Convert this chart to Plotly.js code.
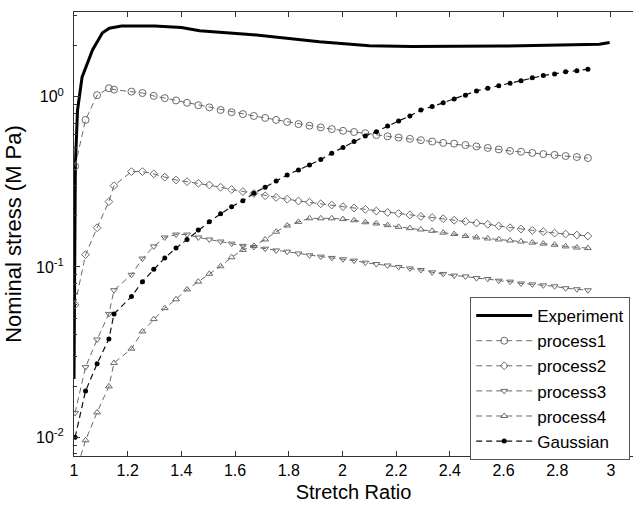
<!DOCTYPE html>
<html>
<head>
<meta charset="utf-8">
<script src="https://cdn.plot.ly/plotly-3.0.1.min.js"></script>
<style>html,body{margin:0;padding:0;background:#fff;overflow:hidden;}</style>
</head>
<body>
<div id="chart" style="width:633px;height:506px;"></div>
<script>
// Experiment curve
const expStretch = [1.0, 1.002, 1.005, 1.013, 1.03, 1.069, 1.106, 1.132, 1.177, 1.3, 1.4, 1.468, 1.654, 1.914, 2.1, 2.26, 2.586, 2.957, 2.995];
const expStress  = [0.022, 0.1, 0.39, 0.83, 1.3, 1.88, 2.37, 2.52, 2.6, 2.6, 2.55, 2.44, 2.32, 2.10, 1.99, 1.97, 1.98, 2.03, 2.08];

// Model stretch grid (shared by the model series)
const modelStretch = [1.004, 1.043, 1.086, 1.130, 1.149, 1.214, 1.255, 1.297, 1.338, 1.380, 1.421, 1.463, 1.504, 1.546, 1.587, 1.629, 1.670, 1.712, 1.753, 1.794, 1.836, 1.877, 1.919, 1.960, 2.002, 2.043, 2.085, 2.126, 2.168, 2.209, 2.251, 2.292, 2.334, 2.375, 2.416, 2.458, 2.499, 2.541, 2.582, 2.624, 2.665, 2.707, 2.748, 2.790, 2.831, 2.873, 2.914];

const process1 = [0.39, 0.73, 1.02, 1.12, 1.10, 1.07, 1.05, 1.01, 0.98, 0.95, 0.92, 0.89, 0.865, 0.835, 0.81, 0.79, 0.77, 0.75, 0.73, 0.71, 0.69, 0.675, 0.66, 0.645, 0.63, 0.62, 0.61, 0.595, 0.585, 0.575, 0.565, 0.555, 0.545, 0.535, 0.53, 0.52, 0.51, 0.50, 0.49, 0.48, 0.475, 0.467, 0.46, 0.455, 0.448, 0.442, 0.436];
const process2 = [0.06, 0.118, 0.170, 0.242, 0.30, 0.363, 0.363, 0.352, 0.337, 0.324, 0.317, 0.31, 0.303, 0.294, 0.285, 0.277, 0.27, 0.262, 0.256, 0.25, 0.244, 0.24, 0.235, 0.231, 0.226, 0.222, 0.218, 0.213, 0.209, 0.206, 0.202, 0.198, 0.195, 0.192, 0.188, 0.185, 0.181, 0.178, 0.174, 0.170, 0.167, 0.164, 0.161, 0.158, 0.156, 0.154, 0.152];
const process3 = [0.0139, 0.0258, 0.0375, 0.053, 0.073, 0.090, 0.112, 0.132, 0.149, 0.155, 0.155, 0.149, 0.145, 0.141, 0.137, 0.133, 0.131, 0.128, 0.125, 0.123, 0.12, 0.117, 0.115, 0.113, 0.111, 0.109, 0.106, 0.104, 0.102, 0.100, 0.098, 0.096, 0.093, 0.091, 0.089, 0.088, 0.086, 0.085, 0.083, 0.082, 0.080, 0.079, 0.078, 0.077, 0.075, 0.074, 0.073];
const process4 = [0.006, 0.0096, 0.014, 0.0199, 0.0273, 0.0331, 0.0418, 0.0494, 0.0573, 0.0646, 0.0738, 0.082, 0.0911, 0.101, 0.114, 0.126, 0.133, 0.145, 0.161, 0.175, 0.184, 0.193, 0.193, 0.193, 0.191, 0.188, 0.183, 0.180, 0.176, 0.172, 0.169, 0.166, 0.163, 0.159, 0.156, 0.152, 0.149, 0.147, 0.145, 0.143, 0.141, 0.139, 0.137, 0.135, 0.132, 0.130, 0.129];
const gaussian = [0.0100, 0.0187, 0.027, 0.0378, 0.053, 0.067, 0.082, 0.097, 0.113, 0.129, 0.145, 0.165, 0.184, 0.205, 0.226, 0.245, 0.271, 0.294, 0.32, 0.347, 0.371, 0.397, 0.427, 0.465, 0.502, 0.545, 0.588, 0.623, 0.673, 0.720, 0.77, 0.835, 0.874, 0.922, 0.969, 1.02, 1.08, 1.12, 1.16, 1.20, 1.24, 1.29, 1.33, 1.36, 1.40, 1.42, 1.45];

const seriesNames = ['Experiment', 'process1', 'process2', 'process3', 'process4', 'Gaussian'];
const yTickVals = [0.01, 0.1, 1];
const yTickText = ['10<sup>-2</sup>', '10<sup>-1</sup>', '10<sup>0</sup>'];
const yMinorVals = [0.008, 0.009, 0.02, 0.03, 0.04, 0.05, 0.06, 0.07, 0.08, 0.09, 0.2, 0.3, 0.4, 0.5, 0.6, 0.7, 0.8, 0.9, 2, 3];

const gray = '#6a6a6a';
const dash = '6px,4px';
function proc(name, ys, sym, size) {
  return {
    x: modelStretch, y: ys, name: name, type: 'scatter', mode: 'lines+markers',
    line: {color: gray, width: 1, dash: dash},
    marker: {symbol: sym, size: size, color: gray, line: {color: gray, width: 1}}
  };
}
const traces = [
  {x: expStretch, y: expStress, name: seriesNames[0], type: 'scatter', mode: 'lines',
   line: {color: '#000', width: 3}},
  proc(seriesNames[1], process1, 'circle-open', 7),
  proc(seriesNames[2], process2, 'diamond-open', 6),
  proc(seriesNames[3], process3, 'triangle-down-open', 6),
  proc(seriesNames[4], process4, 'triangle-up-open', 6),
  {x: modelStretch, y: gaussian, name: seriesNames[5], type: 'scatter', mode: 'lines+markers',
   line: {color: '#111', width: 1.2, dash: dash},
   marker: {symbol: 'circle', size: 5, color: '#000'}}
];

const fontFam = 'Liberation Sans, Arial, sans-serif';
const layout = {
  width: 633, height: 506,
  margin: {l: 74, r: 0, t: 12, b: 50, pad: 0},
  paper_bgcolor: '#fff', plot_bgcolor: '#fff',
  font: {family: fontFam, color: '#000', size: 16},
  showlegend: true,
  legend: {
    x: 0.995, y: 0.358, xanchor: 'right', yanchor: 'top',
    bgcolor: '#fff', bordercolor: '#555', borderwidth: 1,
    font: {family: fontFam, size: 17, color: '#000'},
    tracegroupgap: 0, itemwidth: 56
  },
  xaxis: {
    range: [1, 3.082], dtick: 0.2, tick0: 1,
    ticks: 'inside', ticklen: 5, tickcolor: '#333',
    showline: true, linecolor: '#333', linewidth: 1, mirror: 'ticks',
    showgrid: false, zeroline: false,
    tickfont: {size: 16},
    title: {text: 'Stretch Ratio', font: {size: 20}, standoff: 6}
  },
  yaxis: {
    type: 'log', range: [-2.11, 0.497],
    tickvals: yTickVals, ticktext: yTickText,
    ticks: 'inside', ticklen: 6, tickcolor: '#333',
    minor: {tickvals: yMinorVals, ticks: 'inside', ticklen: 3, tickcolor: '#333', showgrid: false},
    showline: true, linecolor: '#333', linewidth: 1, mirror: false,
    showgrid: false, zeroline: false,
    tickfont: {size: 16},
    ticklabelstandoff: 6,
    title: {text: 'Nominal stress (M Pa)', font: {size: 22}, standoff: 8}
  }
};
Plotly.newPlot('chart', traces, layout, {displayModeBar: false, staticPlot: true});
</script>
</body>
</html>
